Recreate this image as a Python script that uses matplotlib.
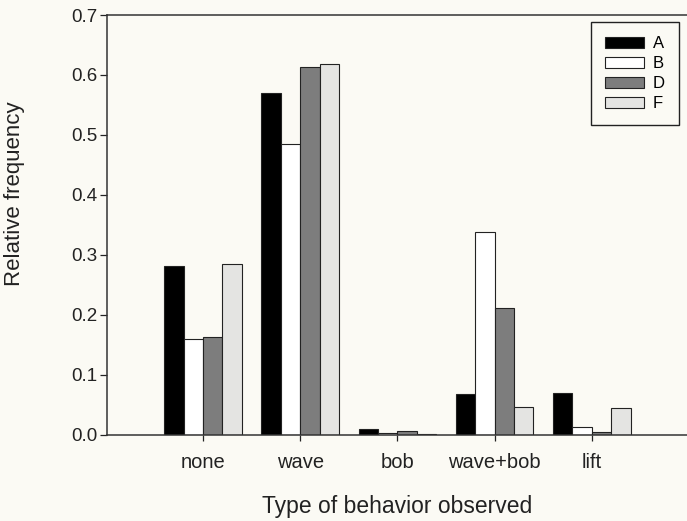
import numpy as np
import matplotlib
matplotlib.use("Agg")
import matplotlib.pyplot as plt

plt.rcParams['font.family'] = ['Liberation Sans', 'DejaVu Sans']

# Data
categories = ['none', 'wave', 'bob', 'wave+bob', 'lift']
series_names = ['A', 'B', 'D', 'F']
vals_a = [0.281, 0.570, 0.009, 0.067, 0.070]
vals_b = [0.159, 0.485, 0.003, 0.338, 0.012]
vals_d = [0.163, 0.613, 0.006, 0.211, 0.005]
vals_f = [0.285, 0.619, 0.001, 0.046, 0.045]

colors = ['#000000', '#ffffff', '#7d7d7d', '#e4e4e2']
bg = '#fbfaf4'

fig = plt.figure(figsize=(6.87, 5.21), dpi=100, facecolor=bg)
ax = fig.add_axes([107 / 687, 1 - 434.5 / 521, 1 - 107 / 687, (434.5 - 15) / 521])
ax.set_facecolor(bg)

x = np.arange(1, len(categories) + 1)
width = 0.2
offsets = [-1.5, -0.5, 0.5, 1.5]
for vals, name, col, off in zip([vals_a, vals_b, vals_d, vals_f], series_names, colors, offsets):
    ax.bar(x + off * width, vals, width, color=col, edgecolor='#222222',
           linewidth=0.8, label=name)

ax.set_xlim(0.012, 5.98)
ax.set_ylim(0, 0.7)
ax.set_xticks(x)
ax.set_xticklabels(categories, fontsize=14.5)
ax.set_yticks(np.arange(0, 0.71, 0.1))
ax.set_yticklabels([f'{v:.1f}' for v in np.arange(0, 0.71, 0.1)], fontsize=13.5)
ax.tick_params(axis='y', direction='out', length=5, width=0.9, pad=2, colors='#222222')
ax.tick_params(axis='x', direction='out', length=4, width=0.9, pad=9, colors='#222222')

for side in ['left', 'bottom', 'top']:
    ax.spines[side].set_linewidth(1.1)
    ax.spines[side].set_color('#333333')
ax.spines['right'].set_visible(False)

ax.set_xlabel('Type of behavior observed', fontsize=16.5, labelpad=17, color='#222222')
ax.set_ylabel('Relative frequency', fontsize=16, color='#222222', va='center')
# label sits above the axes centre in the reference
ax.yaxis.set_label_coords(-0.159, 0.573)

leg = ax.legend(loc='upper right', bbox_to_anchor=(0.986, 0.983), borderaxespad=0,
                fontsize=12, handlelength=2.3, handleheight=0.65, labelspacing=0.3,
                handletextpad=0.55, borderpad=0.85, fancybox=False, framealpha=1,
                edgecolor='#222222', facecolor=bg)
leg.get_frame().set_linewidth(1.0)

fig.savefig('out.png', dpi=100, facecolor=bg)
